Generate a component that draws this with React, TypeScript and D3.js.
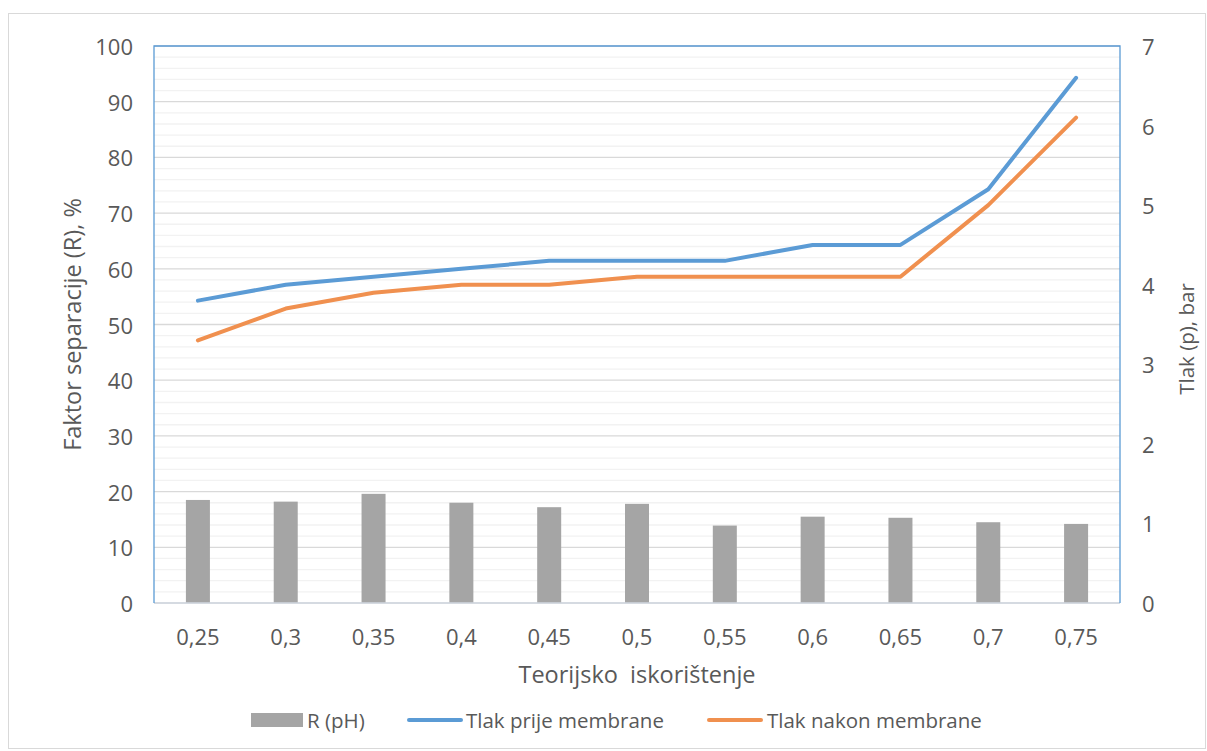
import React from "react";
import * as d3 from "d3";

const categories = ["0,25", "0,3", "0,35", "0,4", "0,45", "0,5", "0,55", "0,6", "0,65", "0,7", "0,75"];
const rPH = [18.5, 18.2, 19.6, 18.0, 17.2, 17.8, 13.9, 15.5, 15.3, 14.5, 14.2];
const tlakPrije = [3.8, 4.0, 4.1, 4.2, 4.3, 4.3, 4.3, 4.5, 4.5, 5.2, 6.6];
const tlakNakon = [3.3, 3.7, 3.9, 4.0, 4.0, 4.1, 4.1, 4.1, 4.1, 5.0, 6.1];
const leftTicks = [0, 10, 20, 30, 40, 50, 60, 70, 80, 90, 100];
const rightTicks = [0, 1, 2, 3, 4, 5, 6, 7];

const W = 1207, H = 751;
const L = 154, R = 1120, T = 46, B = 603;
const BLUE = "#5B9BD5", ORANGE = "#F0904F", GRAY = "#A5A5A5";
const FONT = "'Open Sans', sans-serif";

export default function App() {
  const x = d3.scaleBand<string>().domain(categories).range([L, R]);
  const yL = d3.scaleLinear().domain([0, 100]).range([B, T]);
  const yR = d3.scaleLinear().domain([0, 7]).range([B, T]);
  const minor = d3.range(0, 101, 2);
  const barW = 24;
  const cx = (c: string) => (x(c) as number) + x.bandwidth() / 2;
  const lineGen = (vals: number[]) =>
    d3.line<number>().x((_, i) => cx(categories[i])).y((v) => yR(v))(vals) as string;
  const LY = 720;

  return (
    <svg width={W} height={H} style={{ position: "absolute", left: 0, top: 0, background: "#fff" }}>
      <rect x={8.5} y={13.5} width={1197} height={735} fill="#fff" stroke="#d9d9d9" />
      {minor.map((v) => (
        <line key={"m" + v} x1={L} x2={R} y1={yL(v)} y2={yL(v)}
          stroke={v % 10 === 0 ? "#d9d9d9" : "#f2f2f2"} strokeWidth={1.3} />
      ))}
      {rPH.map((v, i) => (
        <rect key={"b" + i} x={cx(categories[i]) - barW / 2} y={yL(v)} width={barW} height={B - yL(v)} fill={GRAY} />
      ))}
      <line x1={L} x2={R} y1={B} y2={B} stroke="#d0d7e0" strokeWidth={1.5} />
      <polyline points={`${L},${B} ${L},${T} ${R},${T} ${R},${B}`} fill="none" stroke={BLUE} strokeWidth={1.3} />
      <path d={lineGen(tlakPrije)} fill="none" stroke={BLUE} strokeWidth={4} strokeLinejoin="round" strokeLinecap="round" />
      <path d={lineGen(tlakNakon)} fill="none" stroke={ORANGE} strokeWidth={4} strokeLinejoin="round" strokeLinecap="round" />
      <g fontFamily={FONT} fontSize={22} fill="#595959">
        {leftTicks.map((v) => (
          <text key={"l" + v} x={133} y={yL(v)} textAnchor="end" dominantBaseline="central">{v}</text>
        ))}
        {rightTicks.map((v) => (
          <text key={"r" + v} x={1142} y={yR(v)} textAnchor="start" dominantBaseline="central">{v}</text>
        ))}
        {categories.map((c) => (
          <text key={"c" + c} x={cx(c)} y={636} textAnchor="middle" dominantBaseline="central">{c}</text>
        ))}
      </g>
      <g fontFamily={FONT} fill="#595959">
        <text x={637} y={674} fontSize={23.5} textAnchor="middle" dominantBaseline="central" style={{ whiteSpace: "pre" }}>Teorijsko  iskorištenje</text>
        <text transform={`translate(72,${(T + B) / 2}) rotate(-90)`} fontSize={23.5} textAnchor="middle" dominantBaseline="central">Faktor separacije (R), %</text>
        <text transform={`translate(1186,339) rotate(-90)`} fontSize={20.5} textAnchor="middle" dominantBaseline="central">Tlak (p), bar</text>
      </g>
      <g fontFamily={FONT} fontSize={20.5} fill="#595959">
        <rect x={251} y={713} width={52} height={14} fill={GRAY} />
        <text x={307} y={LY} dominantBaseline="central">R (pH)</text>
        <line x1={409} x2={461} y1={LY} y2={LY} stroke={BLUE} strokeWidth={4} strokeLinecap="round" />
        <text x={466} y={LY} dominantBaseline="central">Tlak prije membrane</text>
        <line x1={709} x2={761} y1={LY} y2={LY} stroke={ORANGE} strokeWidth={4} strokeLinecap="round" />
        <text x={767} y={LY} dominantBaseline="central">Tlak nakon membrane</text>
      </g>
    </svg>
  );
}
